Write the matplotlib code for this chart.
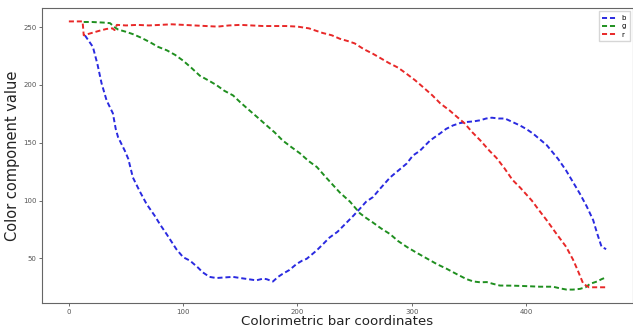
import matplotlib
matplotlib.use("Agg")
import matplotlib.pyplot as plt

# blue channel
b_x = [14, 21, 25, 28.6, 33, 38.5, 41, 43, 49, 52, 56, 62, 68, 75, 80, 85.5, 94, 100, 106, 113,
       117, 123, 129, 136, 143.5, 150, 157, 164, 170, 173, 178.5, 183, 187, 193, 199, 204, 208,
       216.7, 222, 228, 235, 243, 249, 254.6, 260, 266, 272, 281, 287, 295.5, 301, 307, 316,
       324.6, 330, 336, 342, 348, 354, 360, 365, 370, 376, 381.5, 388, 394.6, 400, 406, 412,
       418, 423, 428, 435, 441, 447, 453, 458.7, 462, 466, 470]
b_y = [243, 233, 218, 201.5, 186.7, 175.5, 162, 155, 143, 136, 120, 108, 97, 87, 79, 71, 58, 51,
       48, 42, 38, 34, 33, 33.5, 34, 33, 32, 31, 32.5, 32, 30, 34, 36.6, 40, 45, 48, 49.6,
       56.8, 62, 68, 73, 81, 87, 93, 99, 103, 110, 120, 125, 132, 139, 143, 152,
       158, 162, 165, 167, 168, 168.5, 169.5, 171, 171.7, 171, 171, 168, 165, 162, 158, 153,
       148, 142, 136, 126, 116, 106, 95, 83, 72, 60, 58]

# green channel
g_x = [13, 20, 30, 36, 40, 43, 50, 56, 63, 71, 78, 85.7, 93, 100, 107, 114.6, 122, 129, 136,
       143.6, 150, 158, 165, 173, 180, 187, 195, 202, 210, 217, 225, 237, 246, 254.6, 260, 266,
       273, 281, 288, 295.5, 304, 313, 322, 330.5, 340, 348, 354, 360, 365.5, 371, 377, 388.5,
       400, 412, 423.5, 430, 435.4, 441, 447, 452, 456, 462, 466, 470]
g_y = [254.5, 254.5, 254, 253.5, 250, 248, 246, 244, 241, 237, 233, 230, 226, 221, 215, 208, 204,
       200, 195, 191, 185, 178, 172, 165, 159, 152, 146, 141, 134, 129, 120, 107, 99, 89, 85, 81,
       76, 71, 65, 60, 55, 50, 45, 41, 36, 32, 30, 29.3, 29.5, 28, 26.5, 26.4,
       26, 25.5, 25.5, 24, 23, 23, 23.6, 25, 28, 30, 32, 33.6]

# red channel
r_x = [0, 12, 13, 20, 27, 33, 38, 40, 42, 50, 60, 70, 80, 90, 100, 110, 120, 130, 140, 150, 160,
       170, 180, 190, 200, 210, 216, 222, 230, 237, 244, 250, 258, 266, 273, 280, 288, 295, 303,
       310, 318, 325, 333, 340, 346, 353, 360, 368, 374, 381, 388, 395, 405, 411, 418, 426, 435,
       441, 445, 450, 455, 462, 470]
r_y = [255, 255, 243, 245, 247, 248.5, 249, 247.5, 252, 251.5, 252, 251.5, 252, 252.5, 252, 251.5,
       251, 250.5, 251.5, 252, 251.5, 251, 251, 251, 250.5, 249, 247, 245, 243, 240, 238, 236,
       231, 227, 223, 219, 215, 210, 204, 198, 191, 184, 178, 172, 167, 159, 152, 143, 137, 128,
       118, 111, 100, 92, 83, 72, 60, 49, 40, 28, 25, 25, 25]

fig = plt.figure(figsize=(6.33, 3.30), dpi=100)
ax = fig.add_axes([42 / 633, 27 / 330, 1 - 42 / 633, 295 / 330])

dash = (2.6, 1.5)
ax.plot(b_x, b_y, "--", dashes=dash, color="#2a2ae0", lw=1.4, label="b")
ax.plot(g_x, g_y, "--", dashes=dash, color="#1f8f1f", lw=1.4, label="g")
ax.plot(r_x, r_y, "--", dashes=dash, color="#e82828", lw=1.4, label="r")

ax.set_xticks([0, 100, 200, 300, 400])
ax.set_yticks([50, 100, 150, 200, 250])
ax.tick_params(labelsize=5, colors="#555555", length=2, width=0.6, pad=2)
for s in ax.spines.values():
    s.set_color("#666666")
    s.set_linewidth(0.8)

ax.set_xlabel("Colorimetric bar coordinates", fontsize=9.6, color="#222222", labelpad=0)
ax.set_ylabel("Color component value", fontsize=10.5, color="#222222", labelpad=2)
ax.legend(loc="upper right", fontsize=5, handlelength=2.0, borderpad=0.5,
          labelspacing=0.35, fancybox=False, edgecolor="#cccccc")

fig.savefig("out.png", dpi=100)
